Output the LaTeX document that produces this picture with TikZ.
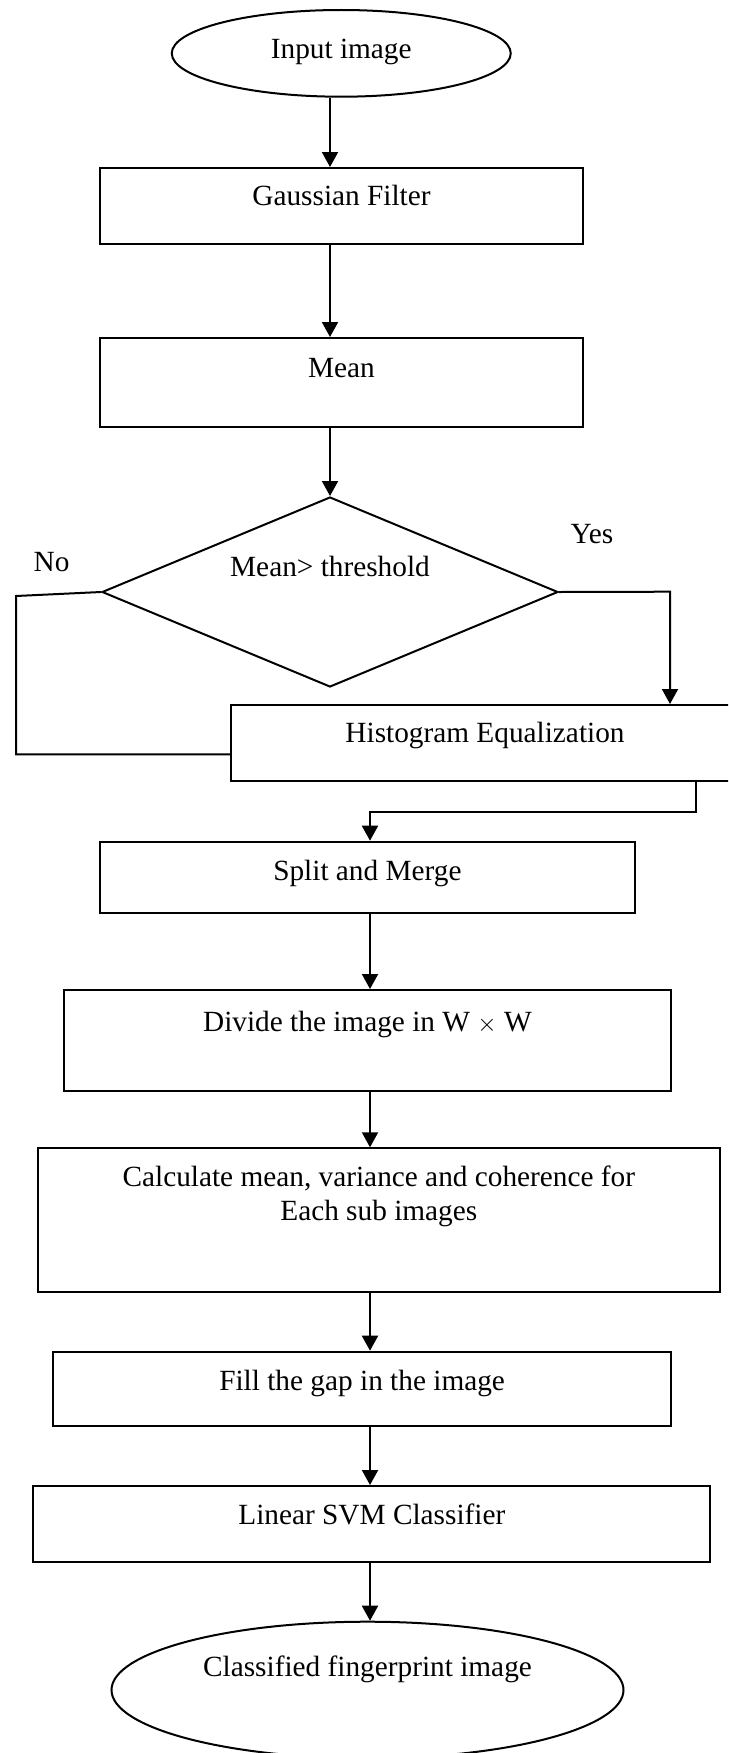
\documentclass[tikz,border=0pt]{standalone}
\usepackage{fontspec}
\setmainfont{Liberation Serif}
\usetikzlibrary{shapes.geometric,arrows.meta}
\begin{document}
\begin{tikzpicture}[x=1pt,y=-1pt,
  every node/.style={font=\fontsize{29.3}{33.4}\selectfont},
  flow/.style={draw,line width=2pt,inner sep=0pt,text height=20pt},
  box/.style={flow,rectangle},
  oval/.style={flow,ellipse},
  decision/.style={flow,diamond,shape aspect=2.4},
  arr/.style={line width=2pt,-{Triangle[length=15pt,width=16pt]}},
  lin/.style={line width=2pt}]
\useasboundingbox (0,0) rectangle (728,1753);
\clip (0,0) rectangle (728,1753);

\coordinate (cA) at (330,0);
\coordinate (cB) at (370,0);
\coordinate (noC) at (16,596);
\coordinate (yesC) at (670,591.7);
\coordinate (hB) at (695.5,811.7);

\node[oval,minimum width=339pt,minimum height=86.7pt,text depth=9.4pt] (in) at (341.25,53.35) {Input image};
\node[box,minimum width=483pt,minimum height=76pt,text depth=22pt] (gauss) at (341.5,206) {Gaussian Filter};
\node[box,minimum width=483pt,minimum height=89pt,text depth=31pt] (mean) at (341.5,382.5) {Mean};
\node[decision,minimum width=456pt,minimum height=190pt,text depth=50.6pt] (dia) at (330,592) {Mean> threshold};
\node[box,minimum width=508pt,minimum height=75.7pt,text depth=20pt] (hist) at (485,742.85) {Histogram Equalization};
\node[box,minimum width=535.2pt,minimum height=71.6pt,text depth=15pt] (split) at (367.4,877.5) {Split and Merge};
\node[box,minimum width=606.8pt,minimum height=101pt,text depth=37.6pt] (divide) at (367.4,1040.5) {Divide the image in W $\times$ W};
\node[box,minimum width=681.6pt,minimum height=143.4pt,text height=60pt,text depth=60pt] (calc) at (378.8,1220)
  {\begin{tabular}[b]{@{}c@{}}Calculate mean, variance and coherence for\\Each sub images\end{tabular}};
\node[box,minimum width=617.4pt,minimum height=74pt,text depth=17.4pt] (fill) at (362.1,1388.7) {Fill the gap in the image};
\node[box,minimum width=676.9pt,minimum height=75.7pt,text depth=19.6pt] (svm) at (371.85,1523.85) {Linear SVM Classifier};
\node[oval,minimum width=512pt,minimum height=136.6pt,text depth=46.6pt] (out) at (367.5,1690) {Classified fingerprint image};

\node[anchor=base] (yes) at (592,543.3) {Yes};
\node[anchor=base] (no) at (51.5,571.7) {No};

\draw[arr] (in.south -| cA) -- (gauss.north -| cA);
\draw[arr] (gauss.south -| cA) -- (mean.north -| cA);
\draw[arr] (mean.south -| cA) -- (dia.north);
\draw[lin] (dia.west) -- (noC) |- ([yshift=-11.5pt]hist.west);
\draw[arr] (dia.east) -- (yesC) -- (yesC |- hist.north);
\draw[arr] (hist.south -| hB) -- (hB) -| (split.north -| cB);
\draw[arr] (split.south -| cB) -- (divide.north -| cB);
\draw[arr] (divide.south -| cB) -- (calc.north -| cB);
\draw[arr] (calc.south -| cB) -- (fill.north -| cB);
\draw[arr] (fill.south -| cB) -- (svm.north -| cB);
\draw[arr] (svm.south -| cB) -- (out.north -| cB);
\end{tikzpicture}
\end{document}
